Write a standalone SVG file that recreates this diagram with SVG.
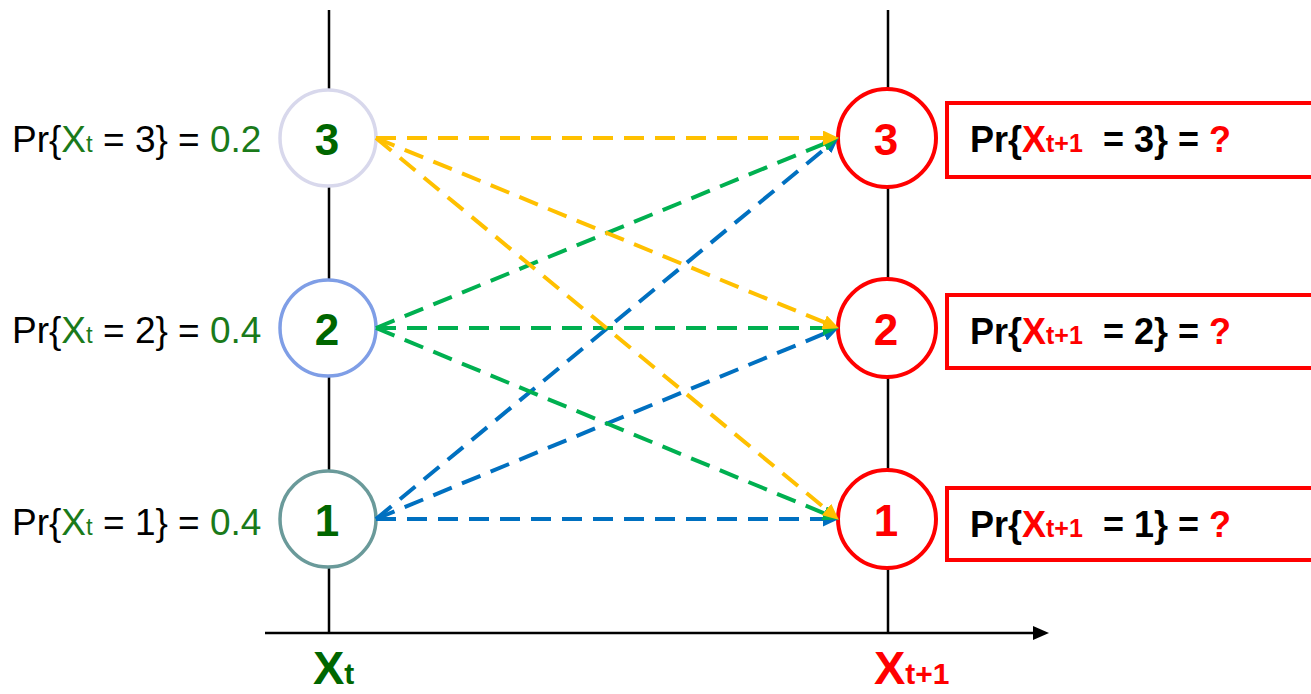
<svg xmlns="http://www.w3.org/2000/svg" width="1311" height="694" viewBox="0 0 1311 694">
<defs>
<style>
.axis{stroke:#000;stroke-width:2.5;fill:none}
.lc{fill:#fff;stroke-width:3.5}
.rc{fill:#fff;stroke:#FF0000;stroke-width:4}
.box{fill:#fff;stroke:#FF0000;stroke-width:4}
.lbl{font-family:"Liberation Sans",Arial,sans-serif;font-size:37px;fill:#000}
.g{fill:#1A7A1A}
.dg{fill:#006600}
.num{font-family:"Liberation Sans",Arial,sans-serif;font-size:44px;font-weight:bold;text-anchor:middle}
.bt{font-family:"Liberation Sans",Arial,sans-serif;font-size:36px;font-weight:bold;fill:#000}
.red{fill:#FF0000}
.ax{font-family:"Liberation Sans",Arial,sans-serif;font-size:47px;font-weight:bold}
.dash{fill:none;stroke-width:4;stroke-dasharray:20 11}
.y{stroke:#FFC000}
.gr{stroke:#00B050}
.b{stroke:#0070C0}
</style>
<marker id="ay" markerUnits="userSpaceOnUse" markerWidth="17" markerHeight="15" refX="9" refY="7.5" orient="auto"><path d="M0,0 L16,7.5 L0,15 z" fill="#FFC000"/></marker>
<marker id="ag" markerUnits="userSpaceOnUse" markerWidth="17" markerHeight="15" refX="9" refY="7.5" orient="auto"><path d="M0,0 L16,7.5 L0,15 z" fill="#00B050"/></marker>
<marker id="ab" markerUnits="userSpaceOnUse" markerWidth="17" markerHeight="15" refX="9" refY="7.5" orient="auto"><path d="M0,0 L16,7.5 L0,15 z" fill="#0070C0"/></marker>
</defs>
<g id="axes">
<line class="axis" x1="329" y1="10" x2="329" y2="633"/>
<line class="axis" x1="888" y1="10" x2="888" y2="633"/>
<line class="axis" x1="265" y1="633" x2="1036" y2="633"/>
<path d="M1033,626 L1049,633 L1033,640 z" fill="#000"/>
</g>
<g id="left-3">
<circle class="lc" cx="328" cy="138" r="48" stroke="#D8D8EC"/>
<text class="num dg" x="327" y="155">3</text>
<text class="lbl" x="12" y="152">Pr{<tspan class="g">X</tspan><tspan class="g" font-size="24">t</tspan> = 3} = <tspan class="g">0.2</tspan></text>
</g>
<g id="left-2">
<circle class="lc" cx="328" cy="328" r="48" stroke="#7F9EE6"/>
<text class="num dg" x="327" y="345">2</text>
<text class="lbl" x="12" y="343">Pr{<tspan class="g">X</tspan><tspan class="g" font-size="24">t</tspan> = 2} = <tspan class="g">0.4</tspan></text>
</g>
<g id="left-1">
<circle class="lc" cx="328" cy="519" r="48" stroke="#6A9A9A"/>
<text class="num dg" x="327" y="536">1</text>
<text class="lbl" x="12" y="535">Pr{<tspan class="g">X</tspan><tspan class="g" font-size="24">t</tspan> = 1} = <tspan class="g">0.4</tspan></text>
</g>
<g id="right-3">
<circle class="rc" cx="887" cy="138" r="49"/>
<text class="num red" x="886" y="155">3</text>
<rect class="box" x="947" y="103" width="380" height="74"/>
<text class="bt" x="970" y="152">Pr{<tspan class="red">X</tspan><tspan class="red" font-size="25">t+1</tspan>&#160; = 3} = <tspan class="red">?</tspan></text>
</g>
<g id="right-2">
<circle class="rc" cx="887" cy="328" r="49"/>
<text class="num red" x="886" y="345">2</text>
<rect class="box" x="947" y="295" width="380" height="73"/>
<text class="bt" x="970" y="344">Pr{<tspan class="red">X</tspan><tspan class="red" font-size="25">t+1</tspan>&#160; = 2} = <tspan class="red">?</tspan></text>
</g>
<g id="right-1">
<circle class="rc" cx="887" cy="519" r="49"/>
<text class="num red" x="886" y="536">1</text>
<rect class="box" x="947" y="488" width="380" height="72"/>
<text class="bt" x="970" y="537">Pr{<tspan class="red">X</tspan><tspan class="red" font-size="25">t+1</tspan>&#160; = 1} = <tspan class="red">?</tspan></text>
</g>
<g id="axis-labels">
<text class="ax dg" x="313" y="684">X<tspan font-size="30">t</tspan></text>
<text class="ax red" x="874" y="684">X<tspan font-size="30">t+1</tspan></text>
</g>
<g id="connectors">
<line class="dash b" x1="376" y1="519" x2="833.4" y2="141.8" marker-end="url(#ab)"/>
<line class="dash b" x1="376" y1="519" x2="832.4" y2="330.3" marker-end="url(#ab)"/>
<line class="dash b" x1="376" y1="519" x2="832" y2="519" marker-end="url(#ab)"/>
<line class="dash gr" x1="376" y1="328" x2="832.4" y2="140.3" marker-end="url(#ag)"/>
<line class="dash gr" x1="376" y1="328" x2="832" y2="328" marker-end="url(#ag)"/>
<line class="dash gr" x1="376" y1="328" x2="832.4" y2="516.7" marker-end="url(#ag)"/>
<line class="dash y" x1="376" y1="138" x2="832" y2="138" marker-end="url(#ay)"/>
<line class="dash y" x1="376" y1="138" x2="832.4" y2="325.7" marker-end="url(#ay)"/>
<line class="dash y" x1="376" y1="138" x2="833.4" y2="515.2" marker-end="url(#ay)"/>
</g>
</svg>
